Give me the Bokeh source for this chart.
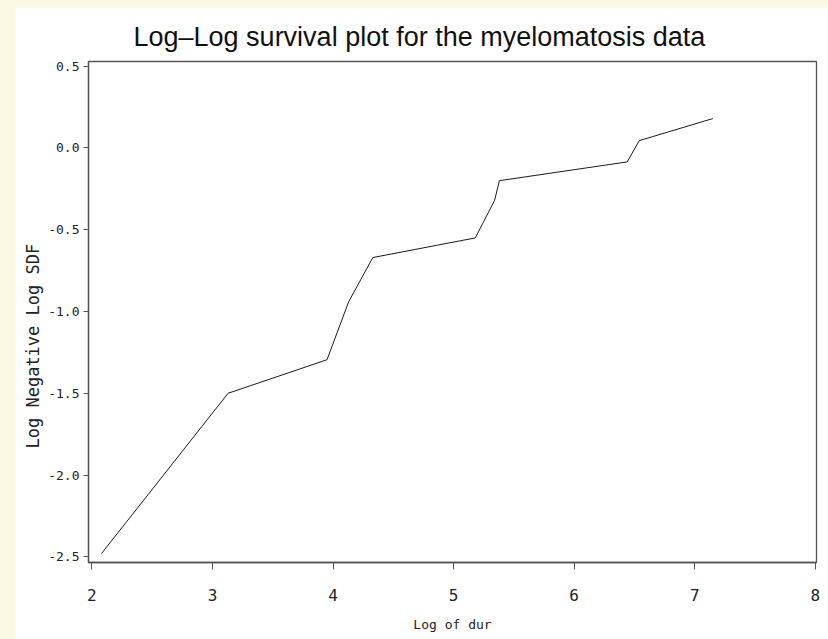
from bokeh.plotting import figure
from bokeh.models import Range1d, FixedTicker, Title
from bokeh.embed import file_html
from bokeh.resources import INLINE

# Data
log_dur = [2.08, 3.13, 3.95, 4.13, 4.33, 5.18, 5.34, 5.38, 6.44, 6.54, 7.15]
log_neg_log_sdf = [-2.48, -1.50, -1.295, -0.94, -0.67, -0.55, -0.32, -0.20, -0.085, 0.045, 0.18]

x_ticks = [2, 3, 4, 5, 6, 7, 8]
y_ticks = [-2.5, -2.0, -1.5, -1.0, -0.5, 0.0, 0.5]
y_tick_labels = ["-2.5", "-2.0", "-1.5", "-1.0", "-0.5", "0.0", "0.5"]

title_text = "Log\u2013Log survival plot for the myelomatosis data"
x_label = "Log of dur"
y_label = "Log Negative Log SDF"

MONO = "DejaVu Sans Mono"
AX = "#555555"

p = figure(width=813, height=632, output_backend="svg", toolbar_location=None,
           x_range=Range1d(1.972, 8.01), y_range=Range1d(-2.535, 0.529),
           min_border_left=73, min_border_right=12, min_border_top=54, min_border_bottom=77,
           background_fill_color="white", border_fill_color="white")
p.grid.visible = False
p.outline_line_color = AX
p.outline_line_width = 1.3

p.line(x=log_dur, y=log_neg_log_sdf, line_color="#1a1a1a", line_width=1)

p.title.text = title_text
p.title.text_font = "Liberation Sans"
p.title.text_font_size = "27px"
p.title.text_font_style = "normal"
p.title.text_color = "#111111"
p.title.align = "left"
p.title.offset = 45
p.title.standoff = 20

for ax in (p.xaxis[0], p.yaxis[0]):
    ax.axis_line_color = AX
    ax.axis_line_width = 1.3
    ax.major_tick_line_color = AX
    ax.major_tick_in = 0
    ax.minor_tick_line_color = None
    ax.major_label_text_font = MONO
    ax.major_label_text_color = "#222222"

p.xaxis.ticker = FixedTicker(ticks=x_ticks)
p.xaxis.major_tick_out = 7
p.xaxis.major_label_text_font_size = "16px"
p.xaxis.major_label_standoff = 19
p.xaxis.axis_label = x_label
p.xaxis.axis_label_text_font = MONO
p.xaxis.axis_label_text_font_size = "13px"
p.xaxis.axis_label_text_font_style = "normal"
p.xaxis.axis_label_text_color = "#222222"
p.xaxis.axis_label_standoff = 13

p.yaxis.ticker = FixedTicker(ticks=y_ticks)
p.yaxis.major_label_overrides = {t: s for t, s in zip(y_ticks, y_tick_labels)}
p.yaxis.major_tick_out = 5
p.yaxis.major_label_text_font_size = "13px"
p.yaxis.major_label_standoff = 4

ytitle = Title(text=y_label, align="left", offset=114, standoff=6,
               text_font=MONO, text_font_size="17px", text_font_style="normal",
               text_color="#222222")
p.add_layout(ytitle, "left")

html = file_html(p, INLINE)
style = "<style>html, body { background-color: #fbf9e4 !important; margin: 0; } body { margin: 7px 0 0 15px !important; }</style>"
html = html.replace("</head>", style + "</head>", 1)
open("out.html", "w").write(html)
